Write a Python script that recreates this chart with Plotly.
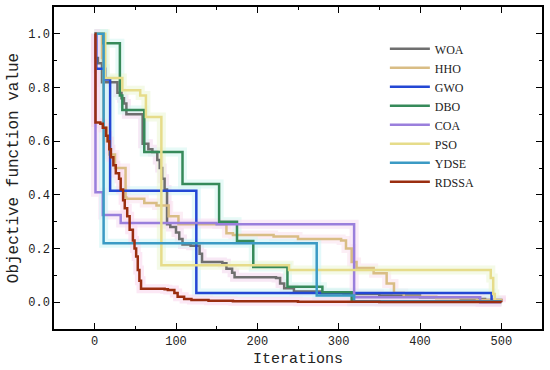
import plotly.graph_objects as go

names = ["WOA", "HHO", "GWO", "DBO", "COA", "PSO", "YDSE", "RDSSA"]
colors = ["#6f6f6f", "#d9bd85", "#2347d4", "#368a5a", "#9a7fdc", "#e6dc8a", "#3b9ac4", "#9a2e10"]
halos = ["#f4d9f0", "#fbe3ef", "#d5f6f8", "#d8f8f2", "#f7e0f4", "#eef8d8", "#d2f6f8", "#fbd9f0"]

woa_x = [0, 1, 4, 9, 28, 33, 36, 39, 59, 66, 71, 77, 80, 83, 86, 89, 93, 100, 104, 108, 118, 129, 132, 157, 162, 169, 172, 223, 228, 233, 245, 278, 306, 350, 400, 450, 480, 500]
woa_y = [1.0, 0.91, 0.89, 0.82, 0.78, 0.76, 0.74, 0.70, 0.59, 0.57, 0.56, 0.53, 0.50, 0.46, 0.42, 0.29, 0.28, 0.26, 0.235, 0.215, 0.21, 0.18, 0.15, 0.145, 0.125, 0.11, 0.093, 0.09, 0.07, 0.052, 0.04, 0.033, 0.03, 0.025, 0.018, 0.012, 0.008, 0.005]

hho_x = [0, 9, 10, 11, 15, 18, 25, 38, 39, 61, 76, 91, 103, 162, 170, 220, 250, 303, 309, 316, 322, 343, 359, 368, 380, 420, 470, 500]
hho_y = [1.0, 0.91, 0.90, 0.65, 0.60, 0.55, 0.50, 0.39, 0.385, 0.37, 0.36, 0.32, 0.29, 0.257, 0.25, 0.245, 0.235, 0.23, 0.20, 0.15, 0.127, 0.108, 0.07, 0.034, 0.02, 0.015, 0.008, 0.005]

gwo_x = [0, 2, 13, 19, 125, 488, 500]
gwo_y = [1.0, 0.87, 0.83, 0.415, 0.034, 0.003, 0.003]

dbo_x = [0, 11, 31, 34, 61, 108, 153, 175, 195, 237, 280, 316, 500]
dbo_y = [1.0, 0.965, 0.77, 0.716, 0.56, 0.44, 0.30, 0.228, 0.131, 0.057, 0.037, 0.002, 0.002]

coa_x = [0, 1, 10, 32, 150, 319, 474, 500]
coa_y = [1.0, 0.41, 0.325, 0.295, 0.29, 0.018, 0.0, 0.0]

pso_x = [0, 13, 34, 56, 63, 82, 239, 487, 490, 492, 500]
pso_y = [1.0, 0.835, 0.79, 0.77, 0.69, 0.138, 0.12, 0.09, 0.03, 0.005, 0.005]

ydse_x = [0, 11, 273, 319, 500]
ydse_y = [1.0, 0.22, 0.025, 0.003, 0.003]

rdssa_x = [0, 1, 7, 10, 14, 16, 18, 20, 23, 26, 30, 32, 35, 37, 40, 43, 47, 49, 51, 53, 55, 57, 86, 90, 98, 102, 110, 119, 140, 170, 250, 350, 500]
rdssa_y = [1.0, 0.67, 0.665, 0.65, 0.62, 0.60, 0.57, 0.54, 0.51, 0.48, 0.46, 0.42, 0.38, 0.35, 0.32, 0.27, 0.23, 0.20, 0.17, 0.12, 0.08, 0.05, 0.048, 0.045, 0.034, 0.02, 0.012, 0.008, 0.005, 0.003, 0.002, 0.001, 0.0]

xs = [woa_x, hho_x, gwo_x, dbo_x, coa_x, pso_x, ydse_x, rdssa_x]
ys = [woa_y, hho_y, gwo_y, dbo_y, coa_y, pso_y, ydse_y, rdssa_y]

x_ticks = [0, 100, 200, 300, 400, 500]
y_ticks = [0.0, 0.2, 0.4, 0.6, 0.8, 1.0]

fig = go.Figure()
# soft halo underlays
for n, h, x, y in zip(names, halos, xs, ys):
    fig.add_trace(go.Scatter(x=x, y=y, mode="lines", line=dict(color=h, width=9, shape="hv"),
                             opacity=0.6, showlegend=False, hoverinfo="skip"))
for n, c, x, y in zip(names, colors, xs, ys):
    fig.add_trace(go.Scatter(x=x, y=y, mode="lines", name=n,
                             line=dict(color=c, width=2.5, shape="hv")))

tickfont = dict(family="Liberation Mono", size=12, color="#222")
axis_common = dict(showline=True, linecolor="black", linewidth=1.5, mirror="ticks",
                   ticks="inside", ticklen=6, tickwidth=1.2, tickcolor="black",
                   showgrid=False, zeroline=False, tickfont=tickfont, automargin=False)

fig.update_xaxes(range=[-50, 550], tickvals=x_ticks,
                 minor=dict(ticks="inside", ticklen=3, tickwidth=1.2, tickcolor="black", dtick=50, tick0=0),
                 title=dict(text="Iterations", font=dict(family="Liberation Mono", size=15, color="#222"), standoff=4),
                 **axis_common)
fig.update_yaxes(range=[-0.1, 1.1], tickvals=y_ticks, ticktext=[f"{v:.1f}" for v in y_ticks],
                 minor=dict(ticks="inside", ticklen=3, tickwidth=1.2, tickcolor="black", dtick=0.1, tick0=0),
                 title=dict(text="Objective function value", font=dict(family="Liberation Mono", size=16, color="#222"), standoff=6),
                 **axis_common)

fig.update_layout(
    width=550, height=370,
    margin=dict(l=54, r=8, t=7, b=41),
    plot_bgcolor="white", paper_bgcolor="white",
    legend=dict(x=0.678, y=0.915, xanchor="left", yanchor="top",
                font=dict(family="Liberation Serif", size=12, color="#222"),
                bgcolor="rgba(0,0,0,0)", borderwidth=0, tracegroupgap=0, itemwidth=40),
    showlegend=True,
)

fig.write_html("out.html", config={"displayModeBar": False},
               post_script="document.body.style.margin='0';document.body.style.overflow='hidden';")
